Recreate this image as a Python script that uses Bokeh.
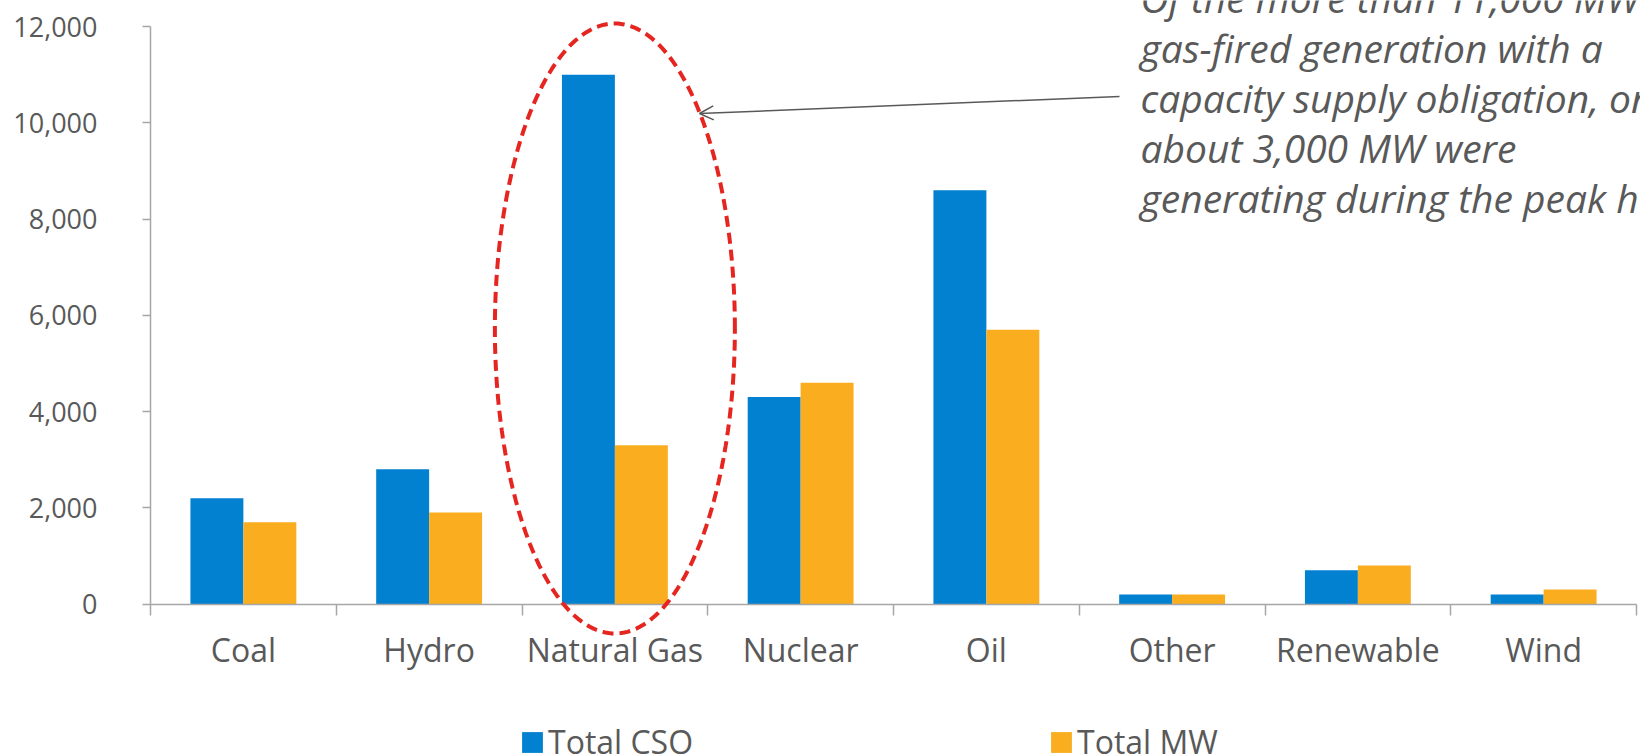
import numpy as np
from bokeh.plotting import figure
from bokeh.models import (Range1d, FixedTicker, NumeralTickFormatter, Legend, LegendItem,
                          Label, Arrow, OpenHead, PolyAnnotation, ColumnDataSource)
from bokeh.transform import dodge
from bokeh.embed import file_html
from bokeh.resources import INLINE

categories = ["Coal", "Hydro", "Natural Gas", "Nuclear", "Oil", "Other", "Renewable", "Wind"]
total_cso = [2200, 2800, 11000, 4300, 8600, 200, 700, 200]
total_mw = [1700, 1900, 3300, 4600, 5700, 200, 800, 300]
y_ticks = [0, 2000, 4000, 6000, 8000, 10000, 12000]
annotation_lines = [
    "Of the more than 11,000 MW of",
    "gas-fired generation with a",
    "capacity supply obligation, only",
    "about 3,000 MW were",
    "generating during the peak hour.",
]

BLUE = "#0281D0"
ORANGE = "#F9AD1F"
GREY_TXT = "#595959"
AXIS = "#A6A6A6"
FONT = "Open Sans"

W, H = 1640, 755
# plot area (pixels) inside the canvas
L, R, T, B = 150, 1636, 26, 603.5
n = len(categories)
ymax = 12000
px_x = (R - L) / n
px_y = (B - T) / ymax
x_range = Range1d(-L / px_x, n + (W - R) / px_x)
y_range = Range1d(-(H - B) / px_y, ymax + T / px_y)


def sx(px):
    return (px - L) / px_x


def sy(py):
    return (B - py) / px_y


centers = [i + 0.5 for i in range(n)]
src = ColumnDataSource(dict(x=centers, cso=total_cso, mw=total_mw, cat=categories))

p = figure(width=W, height=H, output_backend="svg", toolbar_location=None,
           x_range=x_range, y_range=y_range, min_border=0)
p.outline_line_color = None
p.xgrid.visible = False
p.ygrid.visible = False
p.background_fill_color = "white"
p.border_fill_color = "white"

r1 = p.vbar(x=dodge("x", -0.1425, range=p.x_range), top="cso", width=0.285, source=src,
            fill_color=BLUE, line_color=None)
r2 = p.vbar(x=dodge("x", 0.1425, range=p.x_range), top="mw", width=0.285, source=src,
            fill_color=ORANGE, line_color=None)

# x axis
xa = p.xaxis[0]
xa.fixed_location = 0
xa.bounds = (0, n)
xa.ticker = FixedTicker(ticks=centers, minor_ticks=list(range(n + 1)))
xa.major_label_overrides = {c: lab for c, lab in zip(centers, categories)}
xa.major_tick_line_color = None
xa.minor_tick_line_color = AXIS
xa.minor_tick_line_width = 1.5
xa.minor_tick_out = 11
xa.minor_tick_in = 0
xa.axis_line_color = AXIS
xa.axis_line_width = 1.5
xa.major_label_text_font = FONT
xa.major_label_text_font_size = "32px"
xa.major_label_text_color = GREY_TXT
xa.major_label_standoff = 13

# y axis
ya = p.yaxis[0]
ya.fixed_location = 0
ya.bounds = (0, ymax)
ya.ticker = FixedTicker(ticks=y_ticks)
ya.formatter = NumeralTickFormatter(format="0,0")
ya.major_tick_out = 8
ya.major_tick_in = 0
ya.minor_tick_line_color = None
ya.major_tick_line_color = AXIS
ya.major_tick_line_width = 1.5
ya.axis_line_color = AXIS
ya.axis_line_width = 1.5
ya.major_label_text_font = FONT
ya.major_label_text_font_size = "27px"
ya.major_label_text_color = GREY_TXT
ya.major_label_standoff = 45

# legends
for item_label, rend, loc in [("Total CSO", r1, (519, -8)), ("Total MW", r2, (1048, -8))]:
    lg = Legend(items=[LegendItem(label=item_label, renderers=[rend])], location=loc,
                orientation="horizontal", border_line_color=None, background_fill_alpha=0,
                padding=0, margin=0, glyph_width=26, glyph_height=26, label_standoff=3,
                label_height=26, label_text_font=FONT, label_text_font_size="32px",
                label_text_color=GREY_TXT)
    p.add_layout(lg, "center")

# highlight ellipse around Natural Gas
cx = centers[categories.index("Natural Gas")]
cy, rx, ry = sy(328), 120 / px_x, 305 / px_y
t = np.linspace(0, 2 * np.pi, 241)
p.add_layout(PolyAnnotation(xs=list(cx + rx * np.cos(t)), ys=list(cy + ry * np.sin(t)),
                            fill_alpha=0, line_color="#E52620", line_alpha=1.0,
                            line_width=4, line_dash="11 6"))

# arrow
p.add_layout(Arrow(end=OpenHead(size=14, line_color=GREY_TXT, line_width=1.5),
                   x_start=sx(1119), y_start=sy(96), x_end=sx(699), y_end=sy(113),
                   line_color=GREY_TXT, line_width=1.5))

# annotation text
p.add_layout(Label(x=sx(1140), y=sy(97), text="\n".join(annotation_lines),
                   text_font=FONT, text_font_style="italic", text_font_size="39px",
                   text_color=GREY_TXT, text_baseline="middle", text_line_height=0.94))

open("out.html", "w").write(file_html(p, INLINE))
